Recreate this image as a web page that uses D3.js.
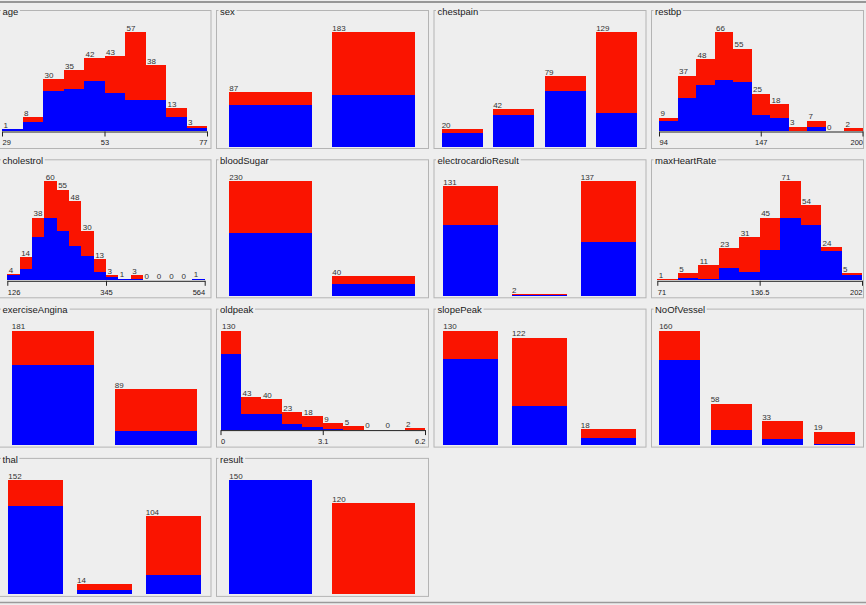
<!DOCTYPE html>
<html><head><meta charset="utf-8">
<script src="https://cdn.jsdelivr.net/npm/d3@7"></script>
<style>html,body{margin:0;padding:0;background:#eeeeee;}svg{display:block;}</style>
</head><body>
<svg id="chart" width="866" height="605"></svg>
<script>
// ---------------- DATA ----------------
// class "absent" = blue, class "present" = red
const ageAbsent   = [1,5,23,24,29,22,18,18,8,2];
const agePresent  = [0,3,7,11,13,21,39,20,5,1];
const ageTicks    = ["29","53","77"];

const sexCats     = ["0","1"];
const sexAbsent   = [67,83];
const sexPresent  = [20,100];

const chestCats    = ["1","2","3","4"];
const chestAbsent  = [15,35,62,38];
const chestPresent = [5,7,17,91];

const restbpAbsent  = [7,22,31,34,33,11,9,0,3,0,0];
const restbpPresent = [2,15,17,32,22,14,9,3,4,0,2];
const restbpTicks   = ["94","147","200"];

const cholAbsent  = [3,7,26,38,30,21,15,5,2,1,1,0,0,0,0,1];
const cholPresent = [1,7,12,22,25,27,15,8,1,0,2,0,0,0,0,0];
const cholTicks   = ["126","345","564"];

const sugarCats    = ["0","1"];
const sugarAbsent  = [127,23];
const sugarPresent = [103,17];

const ecgCats    = ["0","1","2"];
const ecgAbsent  = [85,1,64];
const ecgPresent = [46,1,73];

const hrAbsent  = [0,2,1,9,6,22,45,40,21,4];
const hrPresent = [1,3,10,14,25,23,26,14,3,1];
const hrTicks   = ["71","136.5","202"];

const anginaCats    = ["0","1"];
const anginaAbsent  = [127,23];
const anginaPresent = [54,66];

const oldpeakAbsent  = [99,20,20,7,3,1,0,0,0,0];
const oldpeakPresent = [31,23,20,16,15,8,5,0,0,2];
const oldpeakTicks   = ["0","3.1","6.2"];

const slopeCats    = ["1","2","3"];
const slopeAbsent  = [98,44,8];
const slopePresent = [32,78,10];

const vesselCats    = ["0","1","2","3"];
const vesselAbsent  = [119,21,8,2];
const vesselPresent = [41,37,25,17];

const thalCats    = ["3","6","7"];
const thalAbsent  = [118,6,26];
const thalPresent = [34,8,78];

const resultCats    = ["1","2"];
const resultAbsent  = [150,0];
const resultPresent = [0,120];

// table built from the arrays above
const attributes = [
  {name:"age", type:"numeric", absent:ageAbsent, present:agePresent, ticks:ageTicks},
  {name:"sex", type:"nominal", cats:sexCats, absent:sexAbsent, present:sexPresent},
  {name:"chestpain", type:"nominal", cats:chestCats, absent:chestAbsent, present:chestPresent},
  {name:"restbp", type:"numeric", absent:restbpAbsent, present:restbpPresent, ticks:restbpTicks},
  {name:"cholestrol", type:"numeric", absent:cholAbsent, present:cholPresent, ticks:cholTicks},
  {name:"bloodSugar", type:"nominal", cats:sugarCats, absent:sugarAbsent, present:sugarPresent},
  {name:"electrocardioResult", type:"nominal", cats:ecgCats, absent:ecgAbsent, present:ecgPresent},
  {name:"maxHeartRate", type:"numeric", absent:hrAbsent, present:hrPresent, ticks:hrTicks},
  {name:"exerciseAngina", type:"nominal", cats:anginaCats, absent:anginaAbsent, present:anginaPresent},
  {name:"oldpeak", type:"numeric", absent:oldpeakAbsent, present:oldpeakPresent, ticks:oldpeakTicks},
  {name:"slopePeak", type:"nominal", cats:slopeCats, absent:slopeAbsent, present:slopePresent},
  {name:"NoOfVessel", type:"nominal", cats:vesselCats, absent:vesselAbsent, present:vesselPresent},
  {name:"thal", type:"nominal", cats:thalCats, absent:thalAbsent, present:thalPresent},
  {name:"result", type:"nominal", cats:resultCats, absent:resultAbsent, present:resultPresent}
];

// ---------------- LAYOUT ----------------
const COLS = 4, colStep = 217.5, colX0 = -1.5, panelW = 212;
const rowStep = 149.3, rowY0 = 10, panelH = 138;
const axisInsets = {age:[3.5,3.5], restbp:[8,0.5], cholestrol:[8.8,5.8], maxHeartRate:[6.3,1], oldpeak:[4.5,3]};
const BLUE = "#0000ff", RED = "#fa1400", BG = "#eeeeee";
const FONT = "'Liberation Sans', Arial, sans-serif";

const svg = d3.select("#chart");
svg.append("rect").attr("width",866).attr("height",605).attr("fill",BG);
svg.append("line").attr("x1",0).attr("x2",866).attr("y1",2).attr("y2",2)
   .attr("stroke","#7a7a7a").attr("stroke-width",1.5);
svg.append("line").attr("x1",0).attr("x2",866).attr("y1",602.5).attr("y2",602.5)
   .attr("stroke","#9a9a9a").attr("stroke-width",1.5);

const stack = d3.stack().keys(["absent","present"]);

attributes.forEach((a, i) => {
  const c = i % COLS, r = Math.floor(i / COLS);
  const x0 = colX0 + c*colStep, y0 = rowY0 + r*rowStep;
  const g = svg.append("g");

  // panel border
  g.append("rect").attr("x",x0+0.5).attr("y",y0+0.5).attr("width",panelW).attr("height",panelH)
    .attr("fill","none").attr("stroke","#b4b4b4").attr("stroke-width",1);

  const rows = a.absent.map((v,k)=>({k, absent:v, present:a.present[k], total:v+a.present[k]}));
  const series = stack(rows);
  const maxTotal = d3.max(rows, d=>d.total);
  const numeric = a.type === "numeric";
  const bottom = y0 + (numeric ? 121 : 136.5);
  const y = d3.scaleLinear().domain([0,maxTotal]).range([bottom, y0+22]);

  let xLeft, xWidth, labelDx;
  if (numeric) {
    const ins = axisInsets[a.name];
    const lo = +a.ticks[0], hi = +a.ticks[a.ticks.length-1];
    const x = d3.scaleLinear().domain([lo,hi]).range([x0+ins[0], x0+panelW-ins[1]]);
    const n = rows.length, bw = (hi-lo)/n;
    xLeft = k => x(lo + k*bw);
    xWidth = k => x(lo + (k+1)*bw) - x(lo + k*bw);
    labelDx = 1.5;
    const axis = d3.axisBottom(x).tickValues(a.ticks.map(Number))
      .tickFormat((d,j)=>a.ticks[j]).tickSize(5).tickSizeOuter(0).tickPadding(3.5);
    const ag = g.append("g").attr("transform",`translate(0,${y0+121.5})`).call(axis);
    ag.attr("font-family", null).attr("font-size", null);
    ag.select(".domain").attr("stroke","#222");
    ag.selectAll(".tick line").attr("stroke","#222");
    ag.selectAll(".tick text").attr("fill","#222")
      .style("font-family",FONT).style("font-size","7.5px")
      .attr("text-anchor",(d,j)=> j===0 ? "start" : (j===a.ticks.length-1 ? "end" : "middle"));
  } else {
    const x = d3.scaleBand().domain(a.cats).range([x0+3, x0+panelW-3]).paddingInner(0.2).paddingOuter(0.1);
    xLeft = k => x(a.cats[k]);
    xWidth = k => x.bandwidth();
    labelDx = 0;
  }

  // stacked bars
  const colors = [BLUE, RED];
  series.forEach((s, si) => {
    g.append("g").attr("fill", colors[si]).attr("shape-rendering","crispEdges")
      .selectAll("rect").data(s).join("rect")
      .attr("x", d => xLeft(d.data.k))
      .attr("width", d => xWidth(d.data.k))
      .attr("y", d => y(d[1]))
      .attr("height", d => Math.max(0, y(d[0]) - y(d[1])));
  });

  // count labels
  g.append("g").selectAll("text").data(rows).join("text")
    .attr("x", d => xLeft(d.k) + labelDx)
    .attr("y", d => y(d.total) - 1.2)
    .attr("fill","#333")
    .style("font-family",FONT).style("font-size","8px")
    .text(d => d.total);

  // title (titled border)
  const tg = g.append("g");
  const bgRect = tg.append("rect").attr("fill", BG);
  const t = tg.append("text").attr("x", x0+4).attr("y", y0+4.8)
    .attr("fill","#1a1a1a")
    .style("font-family",FONT).style("font-size","9.5px")
    .text(a.name);
  const bb = t.node().getBBox();
  bgRect.attr("x", bb.x-1.5).attr("y", y0-1).attr("width", bb.width+3).attr("height", 3);
});
</script>
</body></html>
